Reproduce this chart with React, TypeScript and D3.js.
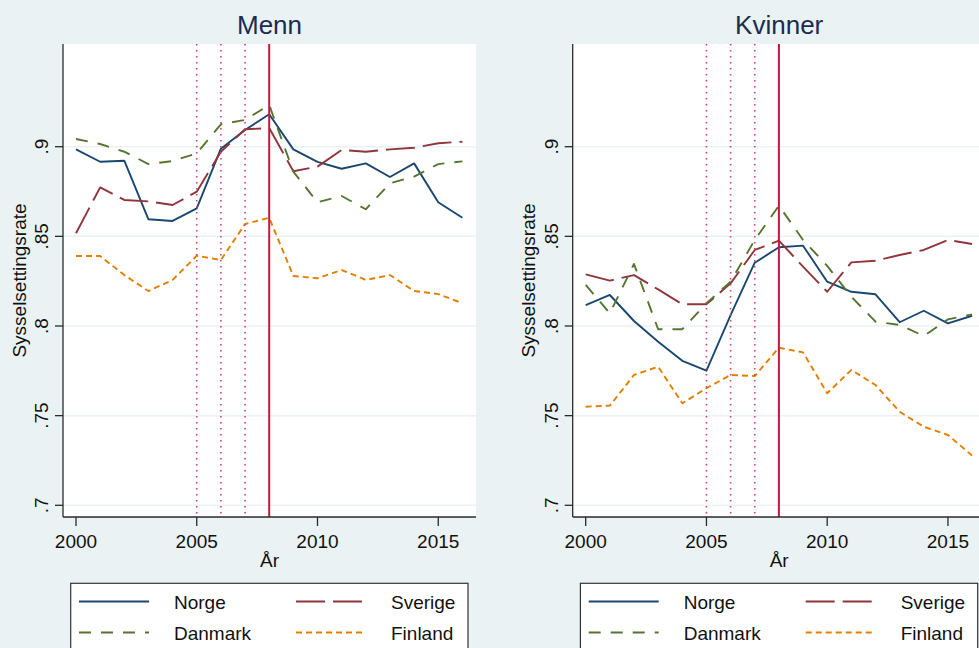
import React from "react";
import * as d3 from "d3";

const years = [2000, 2001, 2002, 2003, 2004, 2005, 2006, 2007, 2008, 2009, 2010, 2011, 2012, 2013, 2014, 2015, 2016];

const menNorge = [0.8985, 0.8916, 0.8922, 0.8595, 0.8586, 0.8656, 0.8989, 0.9093, 0.9181, 0.8985, 0.8915, 0.8877, 0.8907, 0.8831, 0.8907, 0.869, 0.8604];
const menSverige = [0.8517, 0.8773, 0.8703, 0.8695, 0.8675, 0.8749, 0.8972, 0.9097, 0.9104, 0.8863, 0.8889, 0.8982, 0.8972, 0.8985, 0.8994, 0.9019, 0.9028];
const menDanmark = [0.9043, 0.9015, 0.8972, 0.8903, 0.892, 0.8963, 0.9125, 0.9149, 0.9233, 0.8861, 0.869, 0.8725, 0.8651, 0.8796, 0.8833, 0.8903, 0.8918];
const menFinland = [0.839, 0.839, 0.8284, 0.8195, 0.8257, 0.8392, 0.8368, 0.8569, 0.8604, 0.8279, 0.8266, 0.8312, 0.8257, 0.8284, 0.8195, 0.8178, 0.8127];

const womenNorge = [0.8117, 0.8173, 0.8028, 0.7912, 0.7806, 0.7751, 0.8061, 0.8353, 0.8439, 0.8448, 0.8247, 0.8191, 0.8177, 0.8021, 0.8085, 0.8015, 0.8057];
const womenSverige = [0.8288, 0.8253, 0.8284, 0.8204, 0.8121, 0.8121, 0.8238, 0.8424, 0.8476, 0.8331, 0.8191, 0.8355, 0.8364, 0.8396, 0.8424, 0.848, 0.8457];
const womenDanmark = [0.8229, 0.8071, 0.8346, 0.7982, 0.7982, 0.8127, 0.8247, 0.848, 0.8671, 0.848, 0.8335, 0.8163, 0.8024, 0.8006, 0.7944, 0.8037, 0.8065];
const womenFinland = [0.755, 0.7556, 0.7727, 0.7773, 0.7569, 0.7653, 0.7727, 0.7721, 0.7879, 0.7853, 0.7625, 0.7755, 0.7671, 0.7522, 0.7438, 0.7392, 0.7277];

const seriesNames = ["Norge", "Sverige", "Danmark", "Finland"];
const panelTitles = ["Menn", "Kvinner"];
const yTicks = [0.7, 0.75, 0.8, 0.85, 0.9];
const yTickLabels = [".7", ".75", ".8", ".85", ".9"];
const xTicks = [2000, 2005, 2010, 2015];
const dottedYears = [2005, 2006, 2007];
const solidYear = 2008;
const xTitle = "År";
const yTitle = "Sysselsettingsrate";

const colors = ["#1a476f", "#90353b", "#55752f", "#e37e00"];
const dashes = ["none", "29,8", "12,10", "6,4"];

const FONT = "'Liberation Sans', Arial, Helvetica, sans-serif";

const PLOT_W = 413;
const PLOT_TOP = 44;
const PLOT_BOTTOM = 517;

function Panel({ left, title, data }: { left: number; title: string; data: number[][] }) {
  const x = d3.scaleLinear().domain([2000, 2016]).range([left + 13, left + 13 + 16 * 24.15]);
  const y = d3.scaleLinear().domain([0.7, 0.9]).range([505.3, 146.7]);
  const right = left + PLOT_W;
  const cx = left + PLOT_W / 2;
  const line = d3
    .line<number>()
    .x((_, i) => x(years[i]))
    .y((d) => y(d));
  const lx = left + 7.7;
  return (
    <g>
      <text x={cx} y={34} textAnchor="middle" fontSize={26} fill="#1c2b4f" fontFamily={FONT}>
        {title}
      </text>
      <rect x={left} y={PLOT_TOP} width={PLOT_W} height={PLOT_BOTTOM - PLOT_TOP} fill="#ffffff" />
      {yTicks.map((t) => (
        <line key={t} x1={left} x2={right} y1={y(t)} y2={y(t)} stroke="#eaf2f3" strokeWidth={1.5} />
      ))}
      {data.map((d, i) => (
        <path
          key={i}
          d={line(d) || ""}
          fill="none"
          stroke={colors[i]}
          strokeWidth={1.9}
          strokeDasharray={dashes[i]}
          strokeLinejoin="round"
        />
      ))}
      {dottedYears.map((yr) => (
        <line
          key={yr}
          x1={x(yr)}
          x2={x(yr)}
          y1={PLOT_TOP}
          y2={PLOT_BOTTOM}
          stroke="#dc3c6e"
          strokeWidth={1.6}
          strokeDasharray="1.6,4.4"
        />
      ))}
      <line x1={x(solidYear)} x2={x(solidYear)} y1={PLOT_TOP} y2={PLOT_BOTTOM} stroke="#c8163f" strokeWidth={2} />
      <line x1={left} x2={left} y1={PLOT_TOP} y2={PLOT_BOTTOM} stroke="#2a2a2a" strokeWidth={1.3} />
      <line x1={left} x2={right} y1={PLOT_BOTTOM} y2={PLOT_BOTTOM} stroke="#2a2a2a" strokeWidth={1.3} />
      {yTicks.map((t, i) => (
        <g key={t}>
          <line x1={left - 8} x2={left} y1={y(t)} y2={y(t)} stroke="#2a2a2a" strokeWidth={1.3} />
          <text
            transform={`translate(${left - 15},${y(t)}) rotate(-90)`}
            textAnchor="middle"
            fontSize={19}
            fill="#111"
            fontFamily={FONT}
          >
            {yTickLabels[i]}
          </text>
        </g>
      ))}
      {xTicks.map((t) => (
        <g key={t}>
          <line x1={x(t)} x2={x(t)} y1={PLOT_BOTTOM} y2={PLOT_BOTTOM + 9} stroke="#2a2a2a" strokeWidth={1.3} />
          <text x={x(t)} y={547.5} textAnchor="middle" fontSize={19} fill="#111" fontFamily={FONT}>
            {t}
          </text>
        </g>
      ))}
      <text x={cx} y={567} textAnchor="middle" fontSize={19} fill="#111" fontFamily={FONT}>
        {xTitle}
      </text>
      <text
        transform={`translate(${left - 37.5},${(PLOT_TOP + PLOT_BOTTOM) / 2}) rotate(-90)`}
        textAnchor="middle"
        fontSize={19}
        fill="#111"
        fontFamily={FONT}
      >
        {yTitle}
      </text>
      <rect x={lx} y={583.3} width={397.3} height={80} fill="#ffffff" stroke="#333" strokeWidth={1.2} />
      {seriesNames.map((name, i) => {
        const col = i % 2;
        const row = Math.floor(i / 2);
        const sx = lx + (col === 0 ? 8.3 : 225.3);
        const ly = row === 0 ? 601.5 : 632.5;
        const tx = lx + (col === 0 ? 103.3 : 320.3);
        return (
          <g key={name}>
            <line
              x1={sx}
              x2={sx + 70}
              y1={ly}
              y2={ly}
              stroke={colors[i]}
              strokeWidth={1.9}
              strokeDasharray={dashes[i]}
            />
            <text x={tx} y={ly + 7} fontSize={19} fill="#111" fontFamily={FONT}>
              {name}
            </text>
          </g>
        );
      })}
    </g>
  );
}

export default function App() {
  const menData = [menNorge, menSverige, menDanmark, menFinland];
  const womenData = [womenNorge, womenSverige, womenDanmark, womenFinland];
  return (
    <svg
      width={979}
      height={648}
      style={{ position: "absolute", left: 0, top: 0, display: "block" }}
      xmlns="http://www.w3.org/2000/svg"
    >
      <rect x={0} y={0} width={979} height={648} fill="#eaf2f3" />
      <Panel left={63} title={panelTitles[0]} data={menData} />
      <Panel left={572.7} title={panelTitles[1]} data={womenData} />
    </svg>
  );
}
